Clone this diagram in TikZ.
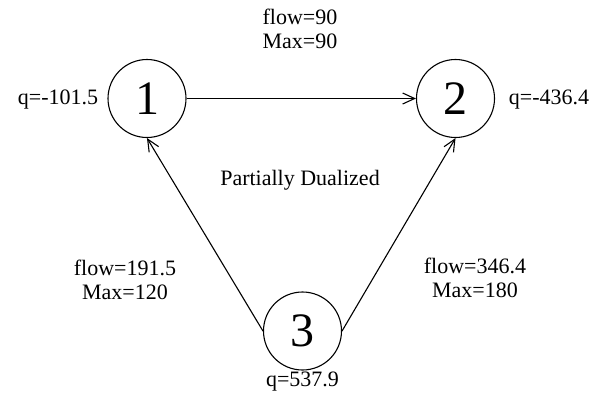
\documentclass[tikz,border=0pt]{standalone}
\usepackage{fontspec}
\setmainfont{Liberation Serif}
\usetikzlibrary{arrows.meta}
\begin{document}
\begin{tikzpicture}[x=1pt,y=-1pt,
  vertex/.style={draw,circle,line width=1.1pt,minimum size=78pt,inner sep=0pt,font=\fontsize{48}{48}\selectfont},
  lbl/.style={font=\fontsize{22}{24.5}\selectfont,align=center,inner sep=0pt},
  edge/.style={line width=1.1pt,-{Straight Barb[length=12pt,width=11pt,line width=1.1pt]}}]
  \useasboundingbox (0,0) rectangle (593,394);
  % vertices
  \node[vertex] (n1) at (147,98.5) {1};
  \node[vertex] (n2) at (455.5,98.5) {2};
  \node[vertex] (n3) at (302.5,331) {3};
  % node supplies
  \node[lbl] (q1) at (58,99.5) {q=-101.5};
  \node[lbl] (q2) at (549,99.5) {q=-436.4};
  \node[lbl] (q3) at (302.5,381.5) {q=537.9};
  % arcs
  \draw[edge] (n1.east) -- (n2.west);
  \draw[edge] (n3.west) -- (n1.south);
  \draw[edge] (n3.east) -- (n2.south);
  % arc labels
  \node[lbl] (a12) at (300,29) {flow=90\\Max=90};
  \node[lbl] (a31) at (125,280) {flow=191.5\\Max=120};
  \node[lbl] (a32) at (475,278) {flow=346.4\\Max=180};
  \node[lbl] (title) at (300,180) {Partially Dualized};
\end{tikzpicture}
\end{document}
